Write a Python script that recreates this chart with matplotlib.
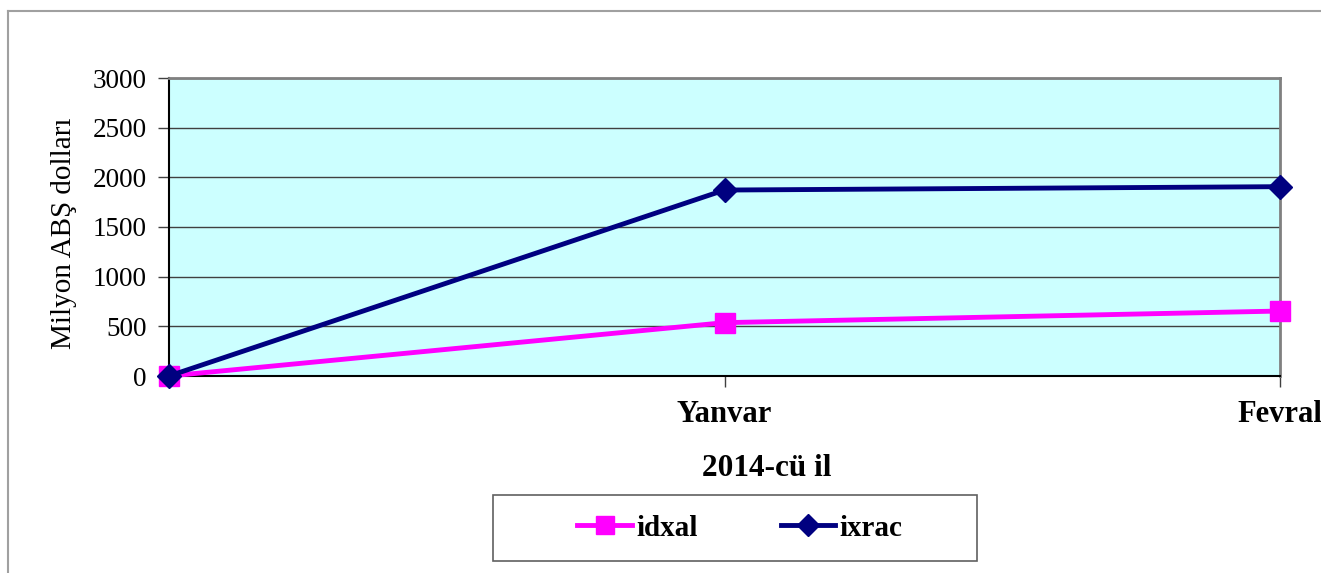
import matplotlib
matplotlib.use("Agg")
import matplotlib.pyplot as plt
from matplotlib.patches import Rectangle
from matplotlib.lines import Line2D

categories = ["", "Yanvar", "Fevral"]
idxal = [0, 537, 654]
ixrac = [0, 1872, 1906]
yticks = [0, 500, 1000, 1500, 2000, 2500, 3000]

plt.rcParams['font.family'] = ['Liberation Serif', 'DejaVu Serif']

W, H = 1321, 573
fig = plt.figure(figsize=(W / 100, H / 100), dpi=100)
left, right, top, bottom = 169, 1280, 78, 376
ax = fig.add_axes([left / W, 1 - bottom / H, (right - left) / W, (bottom - top) / H])
ax.set_facecolor("#CCFFFF")

x = list(range(len(categories)))
ax.plot(x, idxal, color="#FF00FF", lw=3.5, marker="s", markersize=14, clip_on=False, zorder=3, label="idxal")
ax.plot(x, ixrac, color="#000080", lw=3.5, marker="D", markersize=12, clip_on=False, zorder=4, label="ixrac")

ax.set_xlim(0, 2)
ax.set_ylim(0, 3000)
ax.set_yticks(yticks)
ax.set_yticklabels([str(v) for v in yticks], fontsize=19.5)
ax.set_xticks(x)
ax.set_xticklabels(categories, fontsize=22, fontweight="bold")
ax.tick_params(axis="y", length=8, width=1, color="#404040", pad=8)
ax.tick_params(axis="x", length=8, width=1, color="#404040", pad=9)
ax.yaxis.grid(True, color="#404040", lw=1)
ax.set_axisbelow(True)

for s in ["left", "bottom"]:
    ax.spines[s].set_color("black")
    ax.spines[s].set_linewidth(1.5)
for s in ["top", "right"]:
    ax.spines[s].set_color("#808080")
    ax.spines[s].set_linewidth(2)

ax.set_ylabel("Milyon ABŞ dolları", fontsize=21)
ax.yaxis.set_label_coords(-0.083, 0.48)
fig.text(767 / W, 1 - 469 / H, "2014-cü il", fontsize=22.5, fontweight="bold", ha="center", va="center")

# outer border (top and left)
fig.add_artist(Line2D([8 / W, 1], [1 - 11 / H, 1 - 11 / H], color="#A0A0A0", lw=1.5))
fig.add_artist(Line2D([8 / W, 8 / W], [0, 1 - 11 / H], color="#A0A0A0", lw=1.5))

# legend box
lx0, lx1, ly0, ly1 = 493, 977, 495, 561
fig.add_artist(Rectangle((lx0 / W, 1 - ly1 / H), (lx1 - lx0) / W, (ly1 - ly0) / H,
                         fill=False, edgecolor="#606060", lw=1.2))
handles, labels = ax.get_legend_handles_labels()
leg = fig.legend(handles, labels, loc="center", bbox_to_anchor=((lx0 + lx1) / 2 / W + 5 / W, 1 - 528 / H),
                 ncol=2, frameon=False, prop={"size": 21, "weight": "bold"},
                 handlelength=1.87, handletextpad=0.15, columnspacing=2.86, markerscale=0.9)

fig.savefig("out.png", dpi=100)
